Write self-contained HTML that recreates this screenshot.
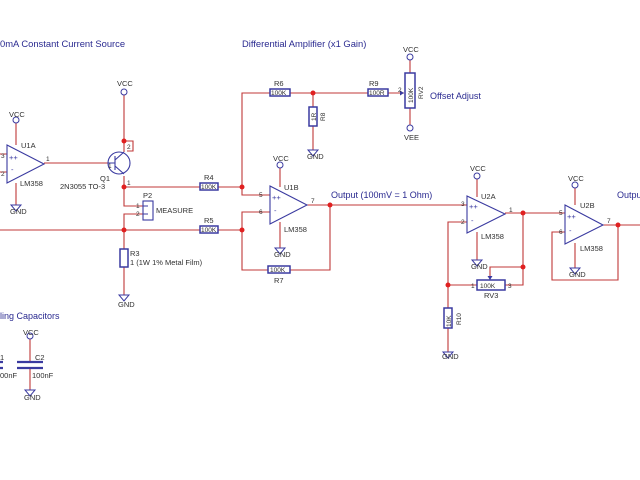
<!DOCTYPE html>
<html><head><meta charset="utf-8"><style>
html,body{margin:0;padding:0;background:#fff;}
svg{display:block}
text{font-family:"Liberation Sans","DejaVu Sans",sans-serif;}
</style></head><body>
<svg width="640" height="480" viewBox="0 0 640 480" xmlns="http://www.w3.org/2000/svg">
<defs>
<g id="vcc"><circle cx="0" cy="0" r="3" fill="none" stroke="#3a3aa0" stroke-width="1"/></g>
<g id="gnd"><path d="M-5 0 H5 L0 6 Z" fill="none" stroke="#3a3aa0" stroke-width="1"/></g>
</defs>
<rect width="640" height="480" fill="#fff"/>

<g font-size="9.4" fill="#2a2a90">
<text x="0" y="47">0mA Constant Current Source</text>
<text x="242" y="47">Differential Amplifier (x1 Gain)</text>
<text x="331" y="198" font-size="9">Output (100mV = 1 Ohm)</text>
<text x="430" y="99" font-size="9">Offset Adjust</text>
<text x="617" y="198" font-size="9">Output</text>
<text x="0" y="319" font-size="9">ling Capacitors</text>
</g>

<g stroke="#c03838" stroke-width="1.1" fill="none">
<path d="M16 123 V145 M16 183 V205 M44 163 H108"/>
<path d="M0 154 H7 M0 172 H7"/>
<path d="M124 95 V141 M124 141 H133 V151 H127 M124 141 V152 M124 176 V206 H143 M143 214 H124 V249 M124 267 V295"/>
<path d="M124 187 H200 M218 187 H242 M0 230 H200 M218 230 H242"/>
<path d="M242 187 V93 H270 M290 93 H368 M388 93 H404 M313 93 V107 M313 126 V150"/>
<path d="M410 60 V73 M410 108 V125"/>
<path d="M242 187 V195 H270 M270 212 H242 V270 H268 M290 270 H330 V204"/>
<path d="M280 168 V187 M280 222 V248"/>
<path d="M307 205 H467 M467 222 H448 V285 H477 M505 285 H523 V213 M505 213 H565"/>
<path d="M490 280 V267 H523 M448 285 V308 M448 328 V352"/>
<path d="M477 179 V197 M477 232 V260"/>
<path d="M575 188 V205 M575 243 V268 M603 225 H640 M565 232 H552 V280 H618 V225"/>
<path d="M30 339 V362 M30 368 V390"/>
</g>

<g fill="#e02020">
<circle cx="124" cy="141" r="2.5"/><circle cx="124" cy="187" r="2.5"/><circle cx="124" cy="230" r="2.5"/>
<circle cx="242" cy="187" r="2.5"/><circle cx="242" cy="230" r="2.5"/><circle cx="313" cy="93" r="2.5"/>
<circle cx="330" cy="205" r="2.5"/><circle cx="523" cy="213" r="2.5"/><circle cx="523" cy="267" r="2.5"/>
<circle cx="448" cy="285" r="2.5"/><circle cx="618" cy="225" r="2.5"/>
</g>

<g stroke="#3a3aa0" stroke-width="1.1" fill="none">
<path d="M7 145 L44 164 L7 183 Z"/>
<path d="M270 186 L307 205 L270 224 Z"/>
<path d="M467 196 L505 214 L467 233 Z"/>
<path d="M565 205 L603 225 L565 244 Z"/>
<circle cx="119" cy="163" r="11"/>
<path d="M108 163 H115 M115 156 V170 M115 160 L124 152 M115 166 L124 174"/>
<rect x="200" y="183" width="18" height="7" stroke-width="1.5"/>
<rect x="200" y="226" width="18" height="7" stroke-width="1.5"/>
<rect x="270" y="89" width="20" height="7" stroke-width="1.5"/>
<rect x="368" y="89" width="20" height="7" stroke-width="1.5"/>
<rect x="268" y="266" width="22" height="7" stroke-width="1.5"/>
<rect x="309" y="107" width="8" height="19" stroke-width="1.5"/>
<rect x="120" y="249" width="8" height="18" stroke-width="1.5"/>
<rect x="405" y="73" width="10" height="35" stroke-width="1.5"/>
<rect x="477" y="280" width="28" height="10" stroke-width="1.5"/>
<rect x="444" y="308" width="8" height="20" stroke-width="1.5"/>
<rect x="143" y="201" width="10" height="19"/>
<path d="M143 206 H148 M143 214 H148"/>
<path d="M17 362 H43 M17 368 H43" stroke-width="2.2"/>
<path d="M0 362 H3 M0 368 H3" stroke-width="2.2"/>
</g>
<path d="M404 93 l-4 -2.5 v5 z M490 280 l-2.5 -4 h5 z" fill="#3a3aa0"/>

<use href="#vcc" x="16" y="120"/><use href="#gnd" x="16" y="205"/>
<use href="#vcc" x="124" y="92"/><use href="#gnd" x="124" y="295"/>
<use href="#vcc" x="410" y="57"/><use href="#vcc" x="410" y="128"/>
<use href="#gnd" x="313" y="150"/>
<use href="#vcc" x="280" y="165"/><use href="#gnd" x="280" y="248"/>
<use href="#vcc" x="477" y="176"/><use href="#gnd" x="477" y="260"/>
<use href="#gnd" x="448" y="352"/>
<use href="#vcc" x="575" y="185"/><use href="#gnd" x="575" y="268"/>
<use href="#vcc" x="30" y="336"/><use href="#gnd" x="30" y="390"/>

<g font-size="7.5" fill="#303030">
<text x="9" y="117">VCC</text><text x="10" y="214">GND</text>
<text x="117" y="86">VCC</text><text x="118" y="307">GND</text>
<text x="403" y="52">VCC</text><text x="404" y="140">VEE</text>
<text x="307" y="159">GND</text>
<text x="273" y="161">VCC</text><text x="274" y="257">GND</text>
<text x="470" y="171">VCC</text><text x="471" y="269">GND</text>
<text x="442" y="359">GND</text>
<text x="568" y="181">VCC</text><text x="569" y="277">GND</text>
<text x="23" y="335">VCC</text><text x="24" y="400">GND</text>
<text x="21" y="148">U1A</text><text x="20" y="186">LM358</text>
<text x="284" y="190">U1B</text><text x="284" y="232">LM358</text>
<text x="481" y="199">U2A</text><text x="481" y="239">LM358</text>
<text x="580" y="208">U2B</text><text x="580" y="251">LM358</text>
<text x="100" y="181">Q1</text><text x="60" y="189">2N3055 TO-3</text>
<text x="143" y="198">P2</text><text x="156" y="213">MEASURE</text>
<text x="204" y="180">R4</text><text x="204" y="223">R5</text>
<text x="274" y="86">R6</text><text x="369" y="86">R9</text>
<text x="274" y="283">R7</text><text x="130" y="256">R3</text>
<text x="130" y="265">1 (1W 1% Metal Film)</text>
<text x="484" y="298">RV3</text>
<text x="35" y="360">C2</text><text x="32" y="378">100nF</text>
<text x="0" y="360">1</text><text x="0" y="378">00nF</text>
<g font-size="6.5">
<text x="201" y="189">100K</text><text x="201" y="232">100K</text>
<text x="271" y="95">100K</text><text x="369" y="95">100R</text>
<text x="270" y="272">100K</text><text x="480" y="288">100K</text>
<text x="1" y="158">3</text><text x="1" y="176">2</text><text x="46" y="161">1</text>
<text x="108" y="168">1</text><text x="127" y="185">1</text><text x="127" y="149">2</text>
<text x="136" y="208">1</text><text x="136" y="216">2</text>
<text x="259" y="197">5</text><text x="259" y="214">6</text><text x="311" y="203">7</text>
<text x="461" y="206">3</text><text x="461" y="224">2</text><text x="509" y="212">1</text>
<text x="559" y="215">5</text><text x="559" y="234">6</text><text x="607" y="223">7</text>
<text x="471" y="288">1</text><text x="508" y="288">3</text><text x="398" y="92">2</text>
</g>
<g font-size="6.5">
<text transform="translate(316,121) rotate(-90)">1R</text>
<text transform="translate(325,121) rotate(-90)">R8</text>
<text transform="translate(413,103) rotate(-90)">100K</text>
<text transform="translate(423,99) rotate(-90)">RV2</text>
<text transform="translate(451,327) rotate(-90)">10K</text>
<text transform="translate(461,325) rotate(-90)">R10</text>
</g>
</g>
<g font-size="7.5" fill="#3a3aa0">
<text x="9" y="160">++</text><text x="11" y="172">-</text>
<text x="272" y="200">++</text><text x="274" y="213">-</text>
<text x="469" y="209">++</text><text x="471" y="223">-</text>
<text x="567" y="219">++</text><text x="569" y="233">-</text>
</g>
</svg>
</body></html>
